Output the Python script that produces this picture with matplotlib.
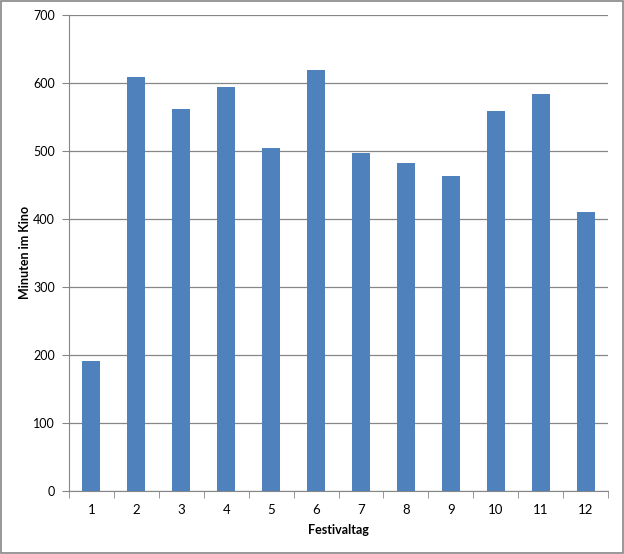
import matplotlib.pyplot as plt
from matplotlib.patches import Rectangle

plt.rcParams['font.family'] = ['Lato', 'DejaVu Sans']

days = ['1', '2', '3', '4', '5', '6', '7', '8', '9', '10', '11', '12']
minutes = [191, 609, 562, 593, 504, 619, 497, 482, 463, 559, 584, 410]

fig = plt.figure(figsize=(6.24, 5.54), dpi=100)
ax = fig.add_axes([0.1106, 0.1137, 0.8638, 0.8598])

x = range(len(days))
ax.bar(x, minutes, width=0.4, color='#4f81bd', zorder=3)

ax.set_xlim(-0.5, len(days) - 0.5)
ax.set_ylim(0, 700)
ax.set_yticks(range(0, 701, 100))
ax.set_xticks(list(x))
ax.set_xticklabels(days)
ax.set_xticks([i - 0.5 for i in range(len(days) + 1)], minor=True)
ax.tick_params(axis='x', which='major', length=0, pad=9, labelsize=9.5)
ax.tick_params(axis='x', which='minor', length=5, color='#868686', direction='out')
ax.tick_params(axis='y', length=5, color='#868686', direction='out', pad=5, labelsize=9)

ax.grid(axis='y', color='#868686', linewidth=0.9, zorder=0)
for side in ['top', 'right']:
    ax.spines[side].set_visible(False)
ax.spines['left'].set_color('#868686')
ax.spines['bottom'].set_color('#868686')

ax.set_xlabel('Festivaltag', fontsize=9, fontweight='bold', labelpad=6)
ax.set_ylabel('Minuten im Kino', fontsize=9, fontweight='bold')
ax.yaxis.set_label_coords(-0.07, 0.5)

fig.patches.append(Rectangle((0.001, 0.002), 0.997, 0.996, transform=fig.transFigure,
                             fill=False, edgecolor='#868686', linewidth=1.2))

plt.savefig('out.png', dpi=100)
plt.close()
